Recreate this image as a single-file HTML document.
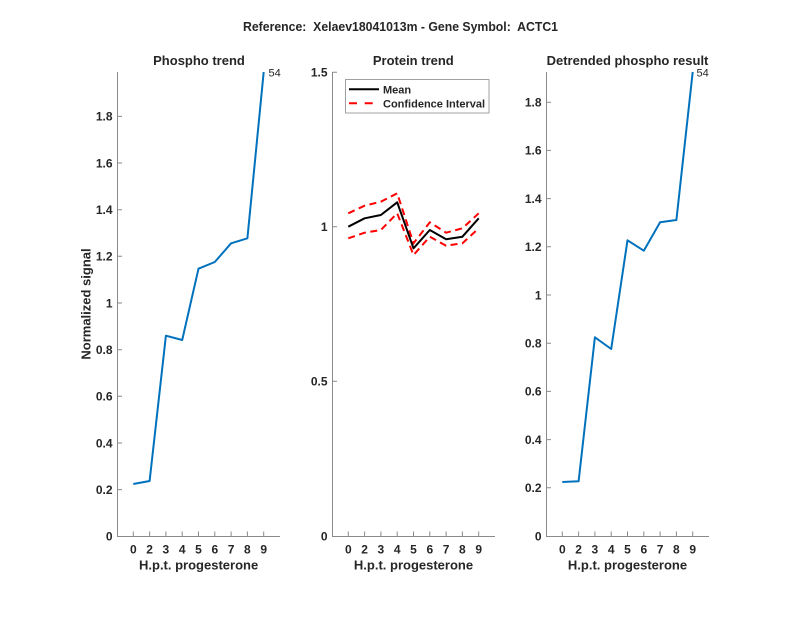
<!DOCTYPE html>
<html><head><meta charset="utf-8"><style>
html,body{margin:0;padding:0;background:#fff;}
svg{display:block;}
text{font-family:"Liberation Sans",Arial,sans-serif;fill:#262626;}
.t{font-weight:bold;font-size:13px;}
.k{font-weight:bold;font-size:12px;}
.ax{stroke:#8a8a8a;stroke-width:1;fill:none;}
</style></head><body>
<svg width="800" height="618" viewBox="0 0 800 618" xmlns="http://www.w3.org/2000/svg">
<rect width="800" height="618" fill="#fff"/>
<text class="t" x="243" y="31" textLength="315" lengthAdjust="spacingAndGlyphs" xml:space="preserve">Reference:  Xelaev18041013m - Gene Symbol:  ACTC1</text>

<!-- LEFT PANEL -->
<text class="t" x="199" y="65" text-anchor="middle">Phospho trend</text>
<path class="ax" d="M117.5 72V536.5H280"/>
<g class="ax">
<path d="M117.5 489.6h4.5M117.5 443h4.5M117.5 396.3h4.5M117.5 349.7h4.5M117.5 303h4.5M117.5 256.3h4.5M117.5 209.7h4.5M117.5 163h4.5M117.5 116.4h4.5"/>
<path d="M133.3 536v-4.5M149.6 536v-4.5M165.9 536v-4.5M182.2 536v-4.5M198.5 536v-4.5M214.8 536v-4.5M231.1 536v-4.5M247.4 536v-4.5M263.7 536v-4.5"/>
</g>
<g class="k" text-anchor="end">
<text x="112.5" y="540.6">0</text><text x="112.5" y="493.9">0.2</text><text x="112.5" y="447.3">0.4</text><text x="112.5" y="400.6">0.6</text><text x="112.5" y="354">0.8</text><text x="112.5" y="307.3">1</text><text x="112.5" y="260.6">1.2</text><text x="112.5" y="214">1.4</text><text x="112.5" y="167.3">1.6</text><text x="112.5" y="120.7">1.8</text>
</g>
<g class="k" text-anchor="middle">
<text x="133.3" y="553.5">0</text><text x="149.6" y="553.5">2</text><text x="165.9" y="553.5">3</text><text x="182.2" y="553.5">4</text><text x="198.5" y="553.5">5</text><text x="214.8" y="553.5">6</text><text x="231.1" y="553.5">7</text><text x="247.4" y="553.5">8</text><text x="263.7" y="553.5">9</text>
</g>
<text class="t" x="198.6" y="569.5" text-anchor="middle">H.p.t. progesterone</text>
<text class="t" x="90.5" y="304" text-anchor="middle" transform="rotate(-90 90.5 304)">Normalized signal</text>
<polyline fill="none" stroke="#0072BD" stroke-width="2" stroke-linejoin="round" points="133.3,484 149.6,481 165.9,335.7 182.2,340 198.5,268.7 214.8,262 231.1,243.3 247.4,238.3 263.7,72"/>
<text x="268.5" y="76.5" style="font-size:11px">54</text>

<!-- MIDDLE PANEL -->
<text class="t" x="413.3" y="65" text-anchor="middle">Protein trend</text>
<path class="ax" d="M332.5 72V536.5H495"/>
<g class="ax">
<path d="M332.5 381.2h4.5M332.5 226.7h4.5M332.5 72.2h4.5"/>
<path d="M348.3 536v-4.5M364.6 536v-4.5M380.9 536v-4.5M397.2 536v-4.5M413.5 536v-4.5M429.8 536v-4.5M446.1 536v-4.5M462.4 536v-4.5M478.7 536v-4.5"/>
</g>
<g class="k" text-anchor="end">
<text x="327.5" y="540.3">0</text><text x="327.5" y="385.5">0.5</text><text x="327.5" y="231">1</text><text x="327.5" y="76.5">1.5</text>
</g>
<g class="k" text-anchor="middle">
<text x="348.3" y="553.5">0</text><text x="364.6" y="553.5">2</text><text x="380.9" y="553.5">3</text><text x="397.2" y="553.5">4</text><text x="413.5" y="553.5">5</text><text x="429.8" y="553.5">6</text><text x="446.1" y="553.5">7</text><text x="462.4" y="553.5">8</text><text x="478.7" y="553.5">9</text>
</g>
<text class="t" x="413.5" y="569.5" text-anchor="middle">H.p.t. progesterone</text>
<polyline fill="none" stroke="#ff0000" stroke-width="2" stroke-dasharray="7 4.5" points="348.3,213.3 364.6,205.7 380.9,201.7 397.2,193.3 413.5,243.3 429.8,222.3 446.1,232.7 462.4,228.3 478.7,213.3"/>
<polyline fill="none" stroke="#ff0000" stroke-width="2" stroke-dasharray="7 4.5" points="348.3,238.3 364.6,232.7 380.9,230 397.2,213.3 413.5,255 429.8,236.7 446.1,245.7 462.4,243.3 478.7,228.3"/>
<polyline fill="none" stroke="#000" stroke-width="2" stroke-linejoin="round" points="348.3,226.7 364.6,218.3 380.9,215 397.2,202.3 413.5,248.3 429.8,230 446.1,239.3 462.4,236.7 478.7,218.3"/>
<rect x="345.5" y="79.5" width="143.5" height="33.5" fill="#fff" stroke="#a0a0a0" stroke-width="1"/>
<line x1="349" y1="89.3" x2="379" y2="89.3" stroke="#000" stroke-width="2"/>
<line x1="349" y1="103.3" x2="379" y2="103.3" stroke="#ff0000" stroke-width="2" stroke-dasharray="8 7.7"/>
<text x="383" y="93.3" style="font-size:11px;font-weight:bold">Mean</text>
<text x="383" y="107.3" style="font-size:11px;font-weight:bold">Confidence Interval</text>

<!-- RIGHT PANEL -->
<text class="t" x="627.5" y="65" text-anchor="middle">Detrended phospho result</text>
<path class="ax" d="M546.5 72V536.5H709"/>
<g class="ax">
<path d="M546.5 487.8h4.5M546.5 439.6h4.5M546.5 391.4h4.5M546.5 343.2h4.5M546.5 295h4.5M546.5 246.8h4.5M546.5 198.6h4.5M546.5 150.4h4.5M546.5 102.2h4.5"/>
<path d="M562.3 536v-4.5M578.6 536v-4.5M594.9 536v-4.5M611.2 536v-4.5M627.5 536v-4.5M643.8 536v-4.5M660.1 536v-4.5M676.4 536v-4.5M692.7 536v-4.5"/>
</g>
<g class="k" text-anchor="end">
<text x="541.5" y="540.3">0</text><text x="541.5" y="492.1">0.2</text><text x="541.5" y="443.9">0.4</text><text x="541.5" y="395.7">0.6</text><text x="541.5" y="347.5">0.8</text><text x="541.5" y="299.3">1</text><text x="541.5" y="251.1">1.2</text><text x="541.5" y="202.9">1.4</text><text x="541.5" y="154.7">1.6</text><text x="541.5" y="106.5">1.8</text>
</g>
<g class="k" text-anchor="middle">
<text x="562.3" y="553.5">0</text><text x="578.6" y="553.5">2</text><text x="594.9" y="553.5">3</text><text x="611.2" y="553.5">4</text><text x="627.5" y="553.5">5</text><text x="643.8" y="553.5">6</text><text x="660.1" y="553.5">7</text><text x="676.4" y="553.5">8</text><text x="692.7" y="553.5">9</text>
</g>
<text class="t" x="627.5" y="569.5" text-anchor="middle">H.p.t. progesterone</text>
<polyline fill="none" stroke="#0072BD" stroke-width="2" stroke-linejoin="round" points="562.3,482 578.6,481.3 594.9,337.3 611.2,349 627.5,240.3 643.8,250.7 660.1,222.3 676.4,220 692.7,72"/>
<text x="696.5" y="76.5" style="font-size:11px">54</text>
</svg>
</body></html>
